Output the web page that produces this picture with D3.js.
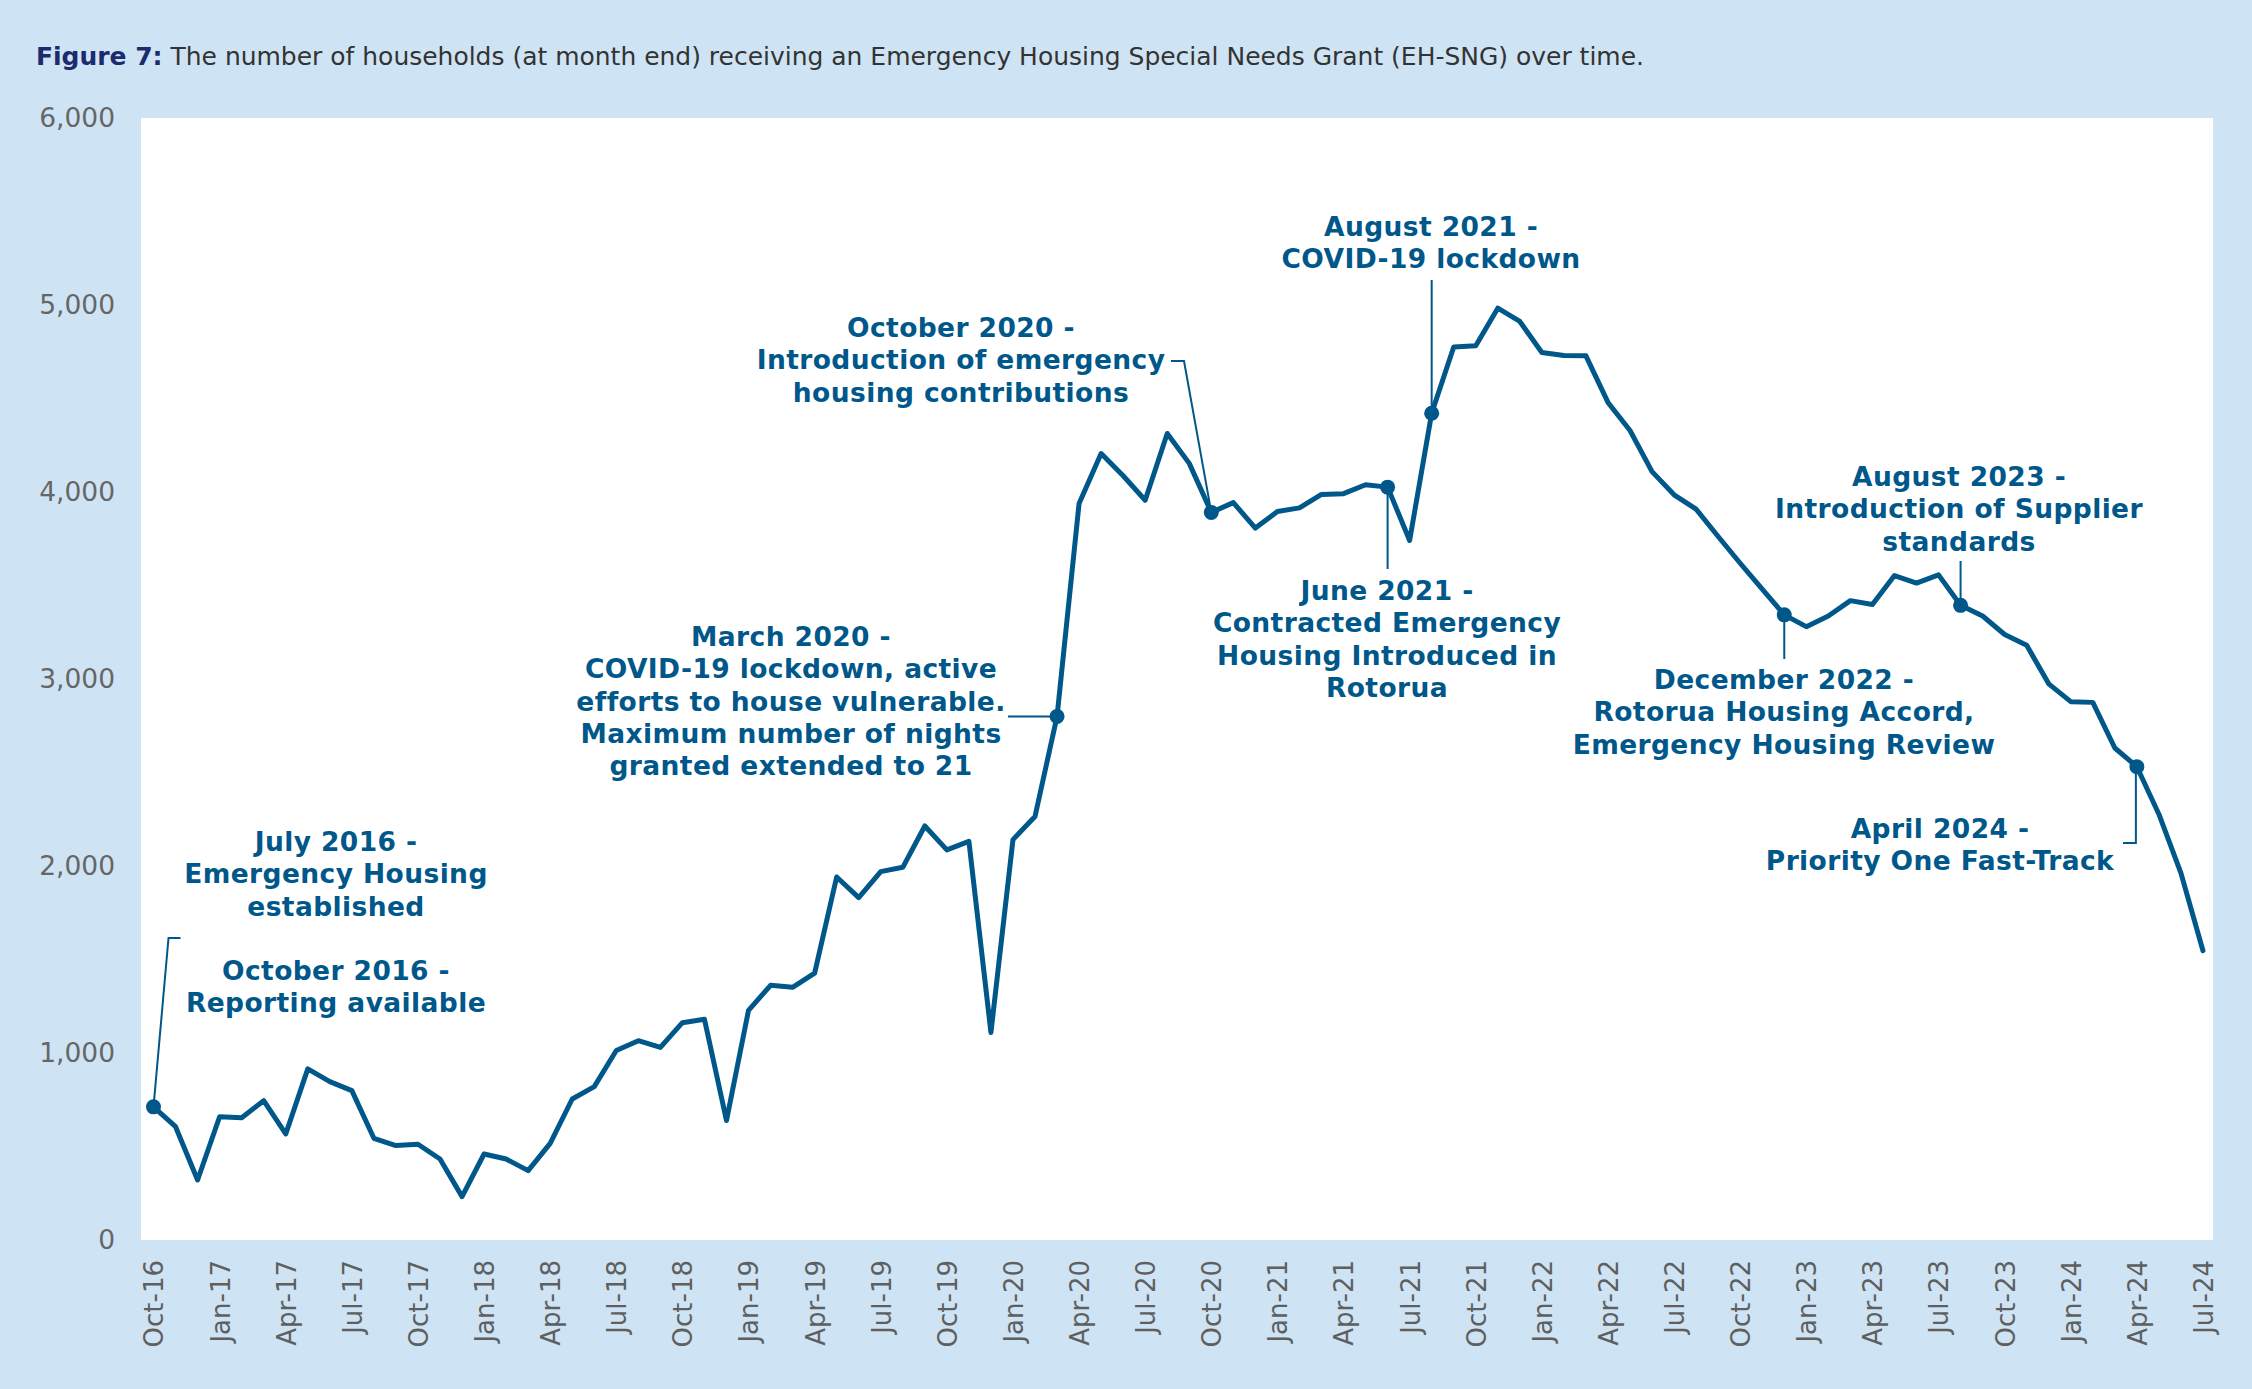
<!DOCTYPE html>
<html><head><meta charset="utf-8">
<script src="https://cdn.jsdelivr.net/npm/d3@7"></script>
<style>html,body{margin:0;padding:0;background:#cee4f4;} svg{display:block}</style>
</head><body><svg id="c" width="2252" height="1389"></svg>
<script>
const months = [
"Oct-16","Nov-16","Dec-16",
"Jan-17","Feb-17","Mar-17","Apr-17","May-17","Jun-17","Jul-17","Aug-17","Sep-17","Oct-17","Nov-17","Dec-17",
"Jan-18","Feb-18","Mar-18","Apr-18","May-18","Jun-18","Jul-18","Aug-18","Sep-18","Oct-18","Nov-18","Dec-18",
"Jan-19","Feb-19","Mar-19","Apr-19","May-19","Jun-19","Jul-19","Aug-19","Sep-19","Oct-19","Nov-19","Dec-19",
"Jan-20","Feb-20","Mar-20","Apr-20","May-20","Jun-20","Jul-20","Aug-20","Sep-20","Oct-20","Nov-20","Dec-20",
"Jan-21","Feb-21","Mar-21","Apr-21","May-21","Jun-21","Jul-21","Aug-21","Sep-21","Oct-21","Nov-21","Dec-21",
"Jan-22","Feb-22","Mar-22","Apr-22","May-22","Jun-22","Jul-22","Aug-22","Sep-22","Oct-22","Nov-22","Dec-22",
"Jan-23","Feb-23","Mar-23","Apr-23","May-23","Jun-23","Jul-23","Aug-23","Sep-23","Oct-23","Nov-23","Dec-23",
"Jan-24","Feb-24","Mar-24","Apr-24","May-24","Jun-24","Jul-24"
];
const households = [
712,606,321,
659,654,745,567,915,847,799,544,505,512,433,232,
460,433,371,517,754,820,1013,1066,1030,1162,1180,639,
1228,1362,1351,1427,1941,1831,1970,1993,2214,2086,2132,1110,
2141,2265,2800,3939,4206,4087,3956,4313,4153,3891,3943,3807,
3896,3915,3987,3991,4039,4026,3741,4421,4775,4782,4983,4912,
4746,4730,4728,4479,4329,4109,3985,3908,3762,3619,3480,3343,
3280,3337,3419,3398,3553,3513,3557,3394,3337,3238,3180,2974,
2879,2875,2631,2531,2277,1962,1547
];
const yTicks = [0,1000,2000,3000,4000,5000,6000];
const xTickLabels = ["Oct-16","Jan-17","Apr-17","Jul-17","Oct-17","Jan-18","Apr-18","Jul-18","Oct-18",
"Jan-19","Apr-19","Jul-19","Oct-19","Jan-20","Apr-20","Jul-20","Oct-20","Jan-21","Apr-21","Jul-21","Oct-21",
"Jan-22","Apr-22","Jul-22","Oct-22","Jan-23","Apr-23","Jul-23","Oct-23","Jan-24","Apr-24","Jul-24"];
const eventMonths = ["Oct-16","Mar-20","Oct-20","Jun-21","Aug-21","Dec-22","Aug-23","Apr-24"];
const eventTexts = [
  ["July 2016 -","Emergency Housing","established","","October 2016 -","Reporting available"],
  ["March 2020 -","COVID-19 lockdown, active","efforts to house vulnerable.","Maximum number of nights","granted extended to 21"],
  ["October 2020 -","Introduction of emergency","housing contributions"],
  ["June 2021 -","Contracted Emergency","Housing Introduced in","Rotorua"],
  ["August 2021 -","COVID-19 lockdown"],
  ["December 2022 -","Rotorua Housing Accord,","Emergency Housing Review"],
  ["August 2023 -","Introduction of Supplier","standards"],
  ["April 2024 -","Priority One Fast-Track"]
];
const titleBold = "Figure 7:";
const titleRest = " The number of households (at month end) receiving an Emergency Housing Special Needs Grant (EH-SNG) over time.";

// ---------- layout ----------
const W = 2252, H = 1389;
const plot = {l:141, t:118, r:2213, b:1240};
const BLUE = "#00578a";
const FONT = "'DejaVu Sans', Verdana, sans-serif";
const svg = d3.select("#c");
svg.append("rect").attr("width",W).attr("height",H).attr("fill","#cee4f4");
svg.append("rect").attr("x",plot.l).attr("y",plot.t).attr("width",plot.r-plot.l).attr("height",plot.b-plot.t).attr("fill","#fff");

const x = d3.scalePoint().domain(months).range([plot.l+1.5, plot.r+1]).padding(0.5);
const y = d3.scaleLinear().domain([0,6000]).range([plot.b, plot.t]);

// title
const title = svg.append("text").attr("x",36).attr("y",65)
  .style("font-family",FONT).style("font-size","22px");
title.append("tspan").text(titleBold).attr("fill","#1c2a6e").style("font-weight","bold");
title.append("tspan").text(titleRest).attr("fill","#333");
const tw = title.node().getComputedTextLength();
title.style("font-size", (22*1608/tw).toFixed(2)+"px");

// y axis
const yAxis = svg.append("g").attr("transform",`translate(${plot.l},0)`)
  .call(d3.axisLeft(y).tickValues(yTicks).tickSize(0).tickPadding(26).tickFormat(d3.format(",")));
yAxis.select(".domain").remove();
yAxis.selectAll("text").style("font-family",FONT).style("font-size","26.5px").attr("fill","#666");

// x axis
const xAxis = svg.append("g").attr("transform",`translate(0,${plot.b})`)
  .call(d3.axisBottom(x).tickValues(xTickLabels).tickSize(0));
xAxis.select(".domain").remove();
xAxis.selectAll("text")
  .attr("transform","rotate(-90)").attr("text-anchor","end")
  .attr("x",-20).attr("y",0).attr("dy","0.36em")
  .style("font-family",FONT).style("font-size","26px").attr("fill","#5f5f5f");

// line
const line = d3.line().x((d,i)=>x(months[i])).y(d=>y(d));
svg.append("path").datum(households).attr("d",line).attr("fill","none")
  .attr("stroke",BLUE).attr("stroke-width",5).attr("stroke-linejoin","round").attr("stroke-linecap","round");

// annotations layout
const annLayout = [
  {cx:336, y0:851, lh:32.3, leader:(px,py)=>[[px,py],[px+15,938],[px+27,938]]},
  {cx:791, y0:646, lh:32.3, leader:(px,py)=>[[1008,py],[px,py]]},
  {cx:961, y0:337, lh:32.3, leader:(px,py)=>[[1171,361],[1184,361],[px,py]]},
  {cx:1387, y0:600, lh:32.3, leader:(px,py)=>[[px,py],[px,569]]},
  {cx:1431, y0:236, lh:32.3, leader:(px,py)=>[[px,280],[px,py]]},
  {cx:1784, y0:689, lh:32.3, leader:(px,py)=>[[px,py],[px,659]]},
  {cx:1959, y0:486, lh:32.3, leader:(px,py)=>[[px,561],[px,py]]},
  {cx:1940, y0:838, lh:32.3, leader:(px,py)=>[[2123,843],[px-1,843],[px-1,py]]}
];
eventMonths.forEach((m,i)=>{
  const i0 = months.indexOf(m);
  const px = x(m), py = y(households[i0]);
  const L = annLayout[i];
  svg.append("path").attr("d", d3.line()(L.leader(px,py))).attr("fill","none")
    .attr("stroke",BLUE).attr("stroke-width",2);
  svg.append("circle").attr("cx",px).attr("cy",py).attr("r",7.5).attr("fill",BLUE);
  const t = svg.append("text").attr("text-anchor","middle")
    .style("font-family",FONT).style("font-size","26.5px").style("font-weight","bold")
    .style("letter-spacing","0.4px").attr("fill",BLUE);
  let yy = L.y0;
  eventTexts[i].forEach((ln,k)=>{
    if (i===0 && k===4) yy = 980;
    if (ln!=="") t.append("tspan").attr("x",L.cx).attr("y",yy).text(ln);
    yy += L.lh;
  });
});
</script></body></html>
